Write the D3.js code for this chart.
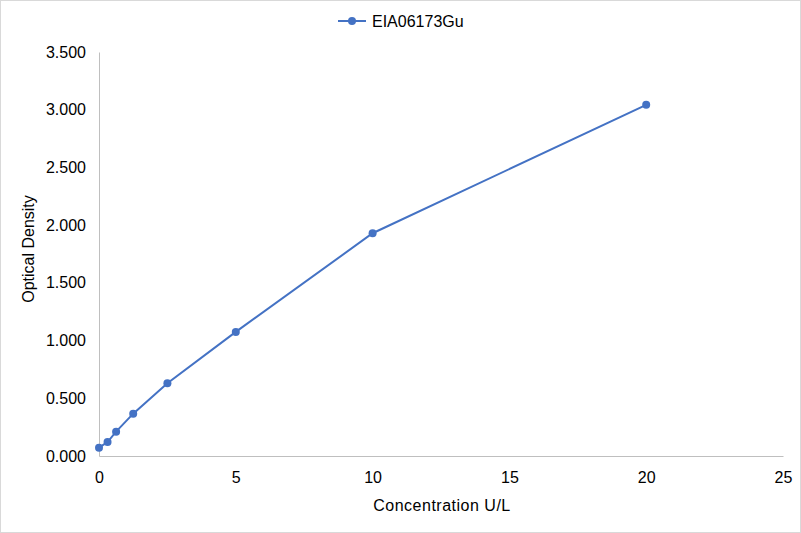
<!DOCTYPE html>
<html>
<head>
<meta charset="utf-8">
<script src="https://cdn.jsdelivr.net/npm/d3@7"></script>
<style>
    body { margin: 0; background: #fff; }
    svg { font-family: "Liberation Sans", Arial, sans-serif; }
</style>
</head>
<body>
<div id="chart"></div>
<script>
// data
var seriesName = "EIA06173Gu";
var concentration = [0, 0.3125, 0.625, 1.25, 2.5, 5, 10, 20];
var density = [0.072, 0.121, 0.211, 0.367, 0.630, 1.075, 1.930, 3.042];
var xTicks = [0, 5, 10, 15, 20, 25];
var yTicks = [0, 0.5, 1, 1.5, 2, 2.5, 3, 3.5];

var width = 801;
var height = 533;
var padding = {top: 52, bottom: 77, left: 99, right: 18};
var color = "#4472c4";

var svg = d3.select("#chart").append("svg").attr("width", width).attr("height", height);

// outer border
svg.append("rect")
    .attr("x", 0.5).attr("y", 0.5)
    .attr("width", width - 1).attr("height", height - 1)
    .attr("fill", "#fff").attr("stroke", "#d9d9d9");

var xscale = d3.scaleLinear().domain([0, 25]).range([padding.left, width - padding.right]);
var yscale = d3.scaleLinear().domain([0, 3.5]).range([height - padding.bottom, padding.top]);

// x axis
var xaxis = d3.axisBottom(xscale).tickValues(xTicks).tickSize(0).tickPadding(16).tickFormat(d3.format("d"));
var gx = svg.append("g")
    .attr("transform", "translate(0," + yscale(0) + ")")
    .call(xaxis);
gx.select(".domain").attr("stroke", "#bfbfbf");
gx.selectAll("text").style("font-size", "16px").attr("fill", "#000");

// y axis
var yaxis = d3.axisLeft(yscale).tickValues(yTicks).tickSize(0).tickPadding(13).tickFormat(d3.format(".3f"));
var gy = svg.append("g")
    .attr("transform", "translate(" + xscale(0) + ",0)")
    .call(yaxis);
gy.select(".domain").attr("stroke", "#bfbfbf");
gy.selectAll("text").style("font-size", "16px").attr("fill", "#000");

// axis titles
svg.append("text")
    .text("Concentration U/L")
    .style("font-size", "16px")
    .style("letter-spacing", "0.5px")
    .attr("text-anchor", "middle")
    .attr("x", 442).attr("y", 511);
svg.append("text")
    .text("Optical Density")
    .style("font-size", "16px")
    .attr("text-anchor", "middle")
    .attr("transform", "translate(34,249) rotate(-90)");

// line and markers
var points = concentration.map(function(c, i) { return [c, density[i]]; });
var line = d3.line()
    .x(function(d) { return xscale(d[0]); })
    .y(function(d) { return yscale(d[1]); });
svg.append("path")
    .datum(points)
    .attr("d", line)
    .attr("fill", "none")
    .attr("stroke", color)
    .attr("stroke-width", 2);
svg.selectAll(".dot").data(points).enter().append("circle")
    .attr("class", "dot")
    .attr("cx", function(d) { return xscale(d[0]); })
    .attr("cy", function(d) { return yscale(d[1]); })
    .attr("r", 4)
    .attr("fill", color);

// legend
var legend = svg.append("g").attr("transform", "translate(338,21)");
legend.append("line").attr("x1", 0).attr("x2", 28).attr("y1", 0).attr("y2", 0)
    .attr("stroke", color).attr("stroke-width", 2);
legend.append("circle").attr("cx", 14).attr("cy", 0).attr("r", 4).attr("fill", color);
legend.append("text").text(seriesName).attr("x", 34).attr("y", 6).style("font-size", "16px");
</script>
</body>
</html>
